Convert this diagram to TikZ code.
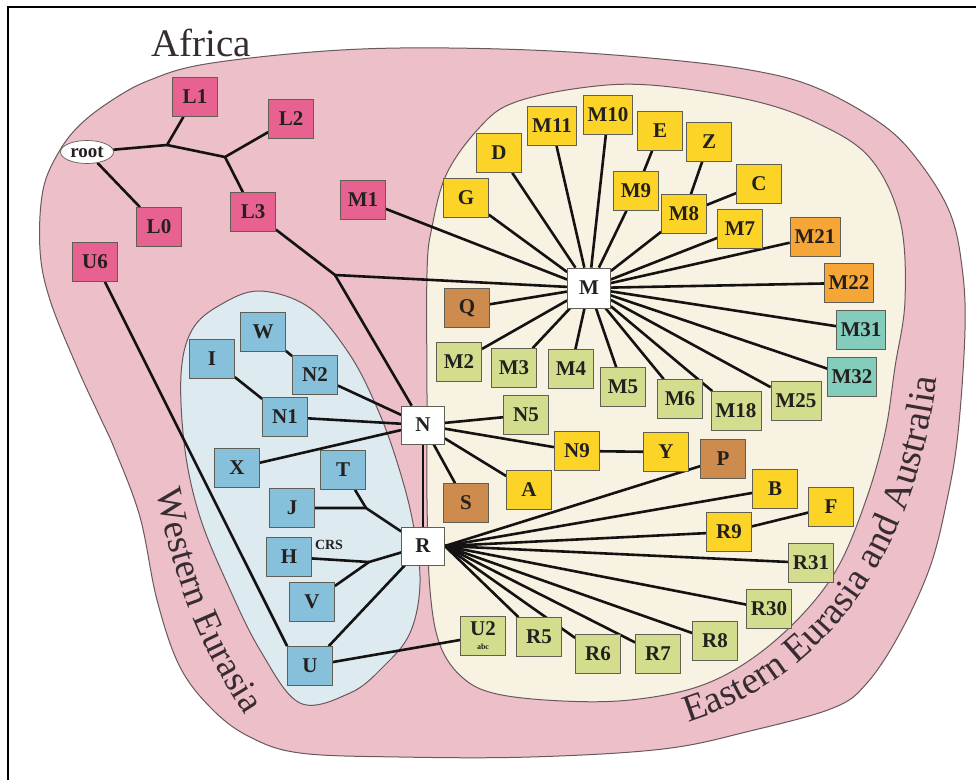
\documentclass[tikz,border=0pt]{standalone}
\usepackage{fontspec}
\setmainfont{Liberation Serif}
\usetikzlibrary{decorations.text,shapes.geometric}
\definecolor{africa}{RGB}{237,191,201}
\definecolor{beige}{RGB}{248,242,226}
\definecolor{bluereg}{RGB}{221,234,240}
\definecolor{regionline}{RGB}{105,88,92}
\definecolor{lpink}{RGB}{231,98,145}
\definecolor{nblue}{RGB}{134,192,218}
\definecolor{nyellow}{RGB}{252,212,40}
\definecolor{ngreen}{RGB}{212,220,142}
\definecolor{nbrown}{RGB}{205,140,78}
\definecolor{norange}{RGB}{246,165,55}
\definecolor{nteal}{RGB}{132,205,188}
\definecolor{boxline}{RGB}{95,95,85}
\definecolor{nodetext}{RGB}{35,32,30}
\definecolor{linkcol}{RGB}{20,18,18}
\definecolor{labelcol}{RGB}{55,45,48}
\pgfdeclarelayer{bg}
\pgfdeclarelayer{links}
\pgfsetlayers{bg,links,main}
\begin{document}
\begin{tikzpicture}[x=1pt,y=-1pt,
  box/.style={draw=boxline, line width=0.7pt, minimum width=45pt, minimum height=39pt, inner sep=1pt, font=\fontsize{21}{21}\selectfont\bfseries, text=nodetext},
  wide/.style={minimum width=49pt},
  lpk/.style={box, fill=lpink},
  blu/.style={box, fill=nblue},
  yel/.style={box, fill=nyellow},
  grn/.style={box, fill=ngreen},
  brn/.style={box, fill=nbrown},
  org/.style={box, fill=norange, wide},
  tea/.style={box, fill=nteal, wide},
  hub/.style={box, fill=white, minimum width=43pt, minimum height=38pt},
  link/.style={line width=2.6pt, draw=linkcol},
  region/.style={draw=regionline, line width=1pt},
]
\useasboundingbox (0,0) rectangle (976,780);

\begin{pgfonlayer}{bg}
\fill[white] (0,0) rectangle (976,780);
\draw[line width=1.5pt] (8,780) -- (8,7) -- (976,7);
\draw[region, fill=africa] plot[smooth cycle, tension=0.6] coordinates {
 (40,250) (43,190) (60,150) (83,122) (117,97) (150,80) (200,65) (300,53) (400,48) (530,50) (650,58) (750,70) (817,88) (883,125) (920,163) (950,213) (962,267) (965,330) (958,433) (947,500) (930,567) (900,633) (867,683) (833,708) (750,731) (663,749) (530,757) (400,757) (300,753) (250,737) (213,710) (180,667) (157,600) (140,517) (115,450) (100,417) (77,367) (50,300)};
\draw[region, fill=beige] plot[smooth cycle, tension=0.6] coordinates {
 (427,273) (432,227) (447,173) (480,127) (513,103) (580,88) (650,85) (750,100) (817,123) (870,158) (900,220) (905,300) (895,367) (885,433) (866,500) (838,567) (800,617) (750,660) (697,687) (630,700) (563,701) (497,694) (463,678) (440,645) (430,590) (427,500) (427,400)};
\draw[region, fill=bluereg] plot[smooth cycle, tension=0.6] coordinates {
 (260,291) (220,305) (192,330) (181,375) (185,450) (200,517) (227,583) (260,650) (300,703) (350,693) (383,667) (410,633) (420,583) (413,523) (398,465) (378,410) (350,355) (310,308)};
\end{pgfonlayer}

% region labels
\node[anchor=base west, font=\fontsize{39}{39}\selectfont, text=labelcol, inner sep=0pt] (africa) at (151,56) {Africa};
\path[decorate, decoration={text along path, text color=labelcol,
  text={|\fontsize{37}{37}\selectfont|Western Eurasia}}]
  (157,490) .. controls (172,570) and (195,650) .. (268,748);
\path[decorate, decoration={text along path, text color=labelcol,
  text={|\fontsize{38}{38}\selectfont|Eastern Eurasia and Australia}}]
  (688,722) .. controls (820,680) and (930,560) .. (942,320);

% nodes
\node[draw=boxline, line width=0.7pt, fill=white, ellipse, minimum width=53pt, minimum height=23pt, inner sep=0pt, font=\fontsize{19}{19}\selectfont\bfseries, text=nodetext] (root) at (87,152) {root};
\node[lpk] (L1) at (195,97) {L1};
\node[lpk] (L2) at (291,119) {L2};
\node[lpk] (L3) at (253,212) {L3};
\node[lpk] (L0) at (159,227) {L0};
\node[lpk] (U6) at (95,262) {U6};
\node[lpk] (M1) at (363,200) {M1};

\node[hub, minimum height=40pt] (M) at (589,288) {M};
\node[hub] (N) at (423,425) {N};
\node[hub] (R) at (423,546) {R};

\node[yel] (G) at (466,198) {G};
\node[yel] (D) at (499,153) {D};
\node[yel, wide] (M11) at (552,126) {M11};
\node[yel, wide] (M10) at (608,115) {M10};
\node[yel] (E) at (660,131) {E};
\node[yel] (Z) at (709,142) {Z};
\node[yel] (M9) at (636,191) {M9};
\node[yel] (M8) at (684,214) {M8};
\node[yel] (C) at (759,184) {C};
\node[yel] (M7) at (740,229) {M7};
\node[org, minimum width=50pt] (M21) at (815,237) {M21};
\node[org] (M22) at (849,283) {M22};
\node[tea] (M31) at (861,330) {M31};
\node[tea] (M32) at (852,377) {M32};
\node[brn] (Q) at (467,308) {Q};
\node[grn] (M2) at (459,362) {M2};
\node[grn] (M3) at (514,368) {M3};
\node[grn] (M4) at (571,369) {M4};
\node[grn] (M5) at (623,387) {M5};
\node[grn] (M6) at (680,399) {M6};
\node[grn, minimum width=50pt] (M18) at (736,411) {M18};
\node[grn, minimum width=50pt] (M25) at (796,401) {M25};

\node[grn] (N5) at (526,415) {N5};
\node[yel] (N9) at (577,451) {N9};
\node[yel] (Y) at (666,452) {Y};
\node[brn] (P) at (723,459) {P};
\node[yel] (A) at (529,490) {A};
\node[brn] (S) at (466,503) {S};
\node[yel] (B) at (775,489) {B};
\node[yel] (F) at (831,507) {F};
\node[yel] (R9) at (729,532) {R9};
\node[grn] (R31) at (811,563) {R31};
\node[grn] (R30) at (769,609) {R30};
\node[grn] (R8) at (715,641) {R8};
\node[grn] (R7) at (658,654) {R7};
\node[grn] (R6) at (598,654) {R6};
\node[grn] (R5) at (539,637) {R5};
\node[grn, align=center] (U2) at (483,636) {U2\\[-7pt]{\fontsize{8}{8}\selectfont abc}};

\node[blu] (W) at (263,332) {W};
\node[blu] (I) at (212,359) {I};
\node[blu] (N2) at (315,375) {N2};
\node[blu] (N1) at (285,417) {N1};
\node[blu] (X) at (237,468) {X};
\node[blu] (T) at (343,470) {T};
\node[blu] (J) at (292,508) {J};
\node[blu] (H) at (289,557) {H};
\node[blu] (V) at (312,602) {V};
\node[blu] (U) at (310,666) {U};
\node[font=\fontsize{14}{14}\selectfont\bfseries, text=nodetext, inner sep=0pt] (crs) at (329,545) {CRS};

% junctions
\coordinate (jr1) at (167,145);
\coordinate (jr2) at (225,157);
\coordinate (jL3) at (335,275);
\coordinate (jT) at (366,508);
\coordinate (jH) at (369,562);

\begin{pgfonlayer}{links}
\draw[link] (root) -- (jr1) -- (L1);
\draw[link] (jr1) -- (jr2) -- (L2);
\draw[link] (jr2) -- (L3);
\draw[link] (root) -- (L0);
\draw[link] (L3) -- (jL3) -- (M);
\draw[link] (jL3) -- (N);
\draw[link] (M1) -- (M);
\draw[link] (U6) -- (U.north west);
\foreach \t in {G,D,M11,M10,M9,M8,M7,M21,M22,M31,M32,M25,M18,M6,M5,M4,M3,M2,Q}
  \draw[link] (M) -- (\t);
\draw[link] (M9) -- (E);
\draw[link] (M8) -- (Z);
\draw[link] (M8) -- (C);
\draw[link] (W) -- (N2);
\draw[link] (I) -- (N1);
\foreach \t in {N2,N1,X,N5,N9,A,S,R}
  \draw[link] (N) -- (\t);
\draw[link] (N9) -- (Y);
\foreach \t in {P,B,R9,R31,R30,R8,R7,R6,R5}
  \draw[link] (R.east) -- (\t);
\draw[link] (R9) -- (F);
\draw[link] (T) -- (jT);
\draw[link] (J) -- (jT) -- (R);
\draw[link] (H) -- (jH);
\draw[link] (V) -- (jH) -- (R);
\draw[link] (U) -- (R);
\draw[link] (U) -- (U2);
\end{pgfonlayer}
\end{tikzpicture}
\end{document}
